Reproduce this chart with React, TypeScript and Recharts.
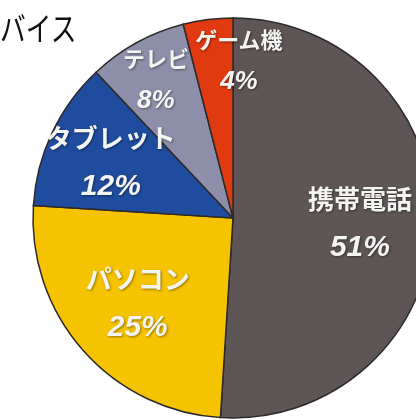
import React from 'react'
import { PieChart, Pie, Cell } from 'recharts'

const title = 'バイス'
const devices = ['携帯電話', 'パソコン', 'タブレット', 'テレビ', 'ゲーム機']
const shares = [51, 25, 12, 8, 4]
const sliceColors = ['#5d5556', '#f6c300', '#1f4c9e', '#8d8ea9', '#e23a10']

const data = devices.map((name, i) => ({ name, value: shares[i] }))

const RAD = Math.PI / 180

const renderLabel = (props: any) => {
  const { cx, cy, midAngle, outerRadius, index, name, value } = props
  const ratio = value >= 20 ? 0.635 : value >= 10 ? 0.675 : 0.8
  const r = outerRadius * ratio
  const dx = index === 4 ? 26 : 0
  const x = cx + r * Math.cos(-midAngle * RAD) + dx
  const y = cy + r * Math.sin(-midAngle * RAD)
  const big = value >= 10
  const nameSize = big ? 26 : 22
  const pctSize = big ? 30 : 26
  const gap = big ? 24 : 21
  return (
    <g style={{ filter: 'drop-shadow(1px 1px 1px rgba(0,0,0,0.4))' }}>
      <text
        x={x}
        y={y - gap}
        textAnchor="middle"
        dominantBaseline="central"
        fill="#f4f4f2"
        fontSize={nameSize}
        fontWeight={700}
        fontFamily="'Noto Sans CJK JP', sans-serif"
      >
        {name}
      </text>
      <text
        x={x}
        y={y + gap}
        textAnchor="middle"
        dominantBaseline="central"
        fill="#f4f4f2"
        fontSize={pctSize}
        fontWeight={700}
        fontStyle="italic"
        fontFamily="'Liberation Sans', Arial, sans-serif"
      >
        {value}%
      </text>
    </g>
  )
}

export default function App() {
  return (
    <div style={{ position: 'fixed', left: 0, top: 0, width: 416, height: 420, background: '#fff', overflow: 'hidden' }}>
      <div
        style={{
          position: 'absolute',
          left: 0,
          top: 11,
          fontSize: 33,
          lineHeight: 1,
          fontFamily: "'Noto Sans CJK JP', sans-serif",
          color: '#111',
          whiteSpace: 'nowrap',
          transform: 'scaleX(0.78)',
          transformOrigin: 'left top',
        }}
      >
        {title}
      </div>
      <PieChart width={416} height={420} style={{ position: 'absolute', left: 0, top: 0 }}>
        <Pie
          data={data}
          dataKey="value"
          nameKey="name"
          cx={228}
          cy={213}
          outerRadius={200}
          startAngle={90}
          endAngle={-270}
          stroke="#2e2a2a"
          strokeWidth={1.5}
          label={renderLabel}
          labelLine={false}
          isAnimationActive={false}
        >
          {data.map((d, i) => (
            <Cell key={d.name} fill={sliceColors[i]} />
          ))}
        </Pie>
      </PieChart>
    </div>
  )
}
